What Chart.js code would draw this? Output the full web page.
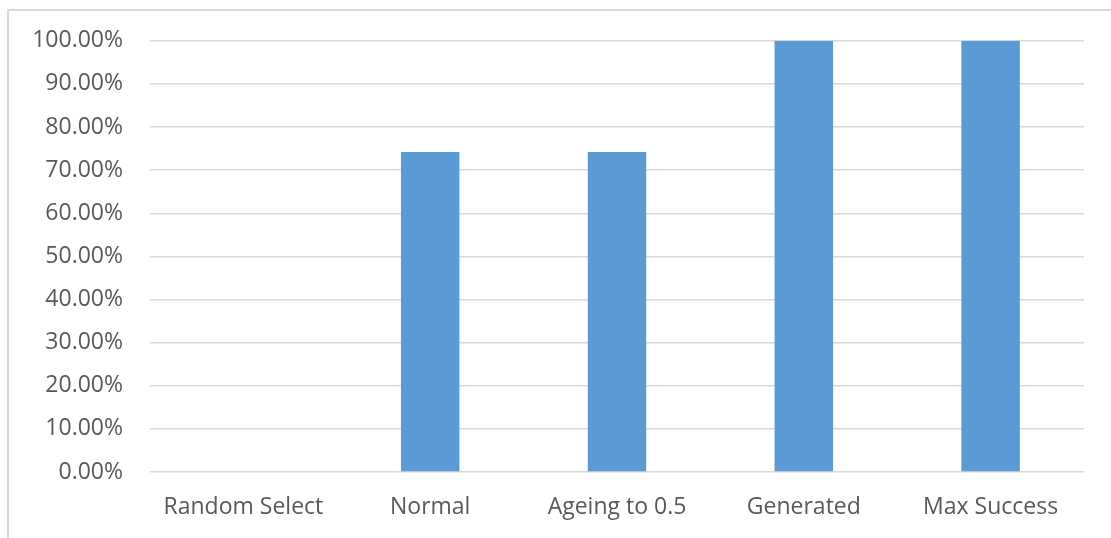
<!DOCTYPE html>
<html>
<head>
<meta charset="utf-8">
<script src="https://cdn.jsdelivr.net/npm/chart.js@4"></script>
<style>
  html, body { margin: 0; padding: 0; background: #fff; }
  body { width: 1111px; height: 538px; position: relative; overflow: hidden; }
  #frame { position: absolute; left: 7px; top: 9px; width: 1300px; height: 700px;
           border: 2px solid #d9d9d9; box-sizing: border-box; }
  #wrap { position: absolute; left: 0; top: 0; width: 1111px; height: 538px; }
</style>
</head>
<body>
<div id="frame"></div>
<div id="wrap"><canvas id="c" width="1111" height="538"></canvas></div>
<script>
// Success rate per selection strategy (percent)
const categories = ['Random Select', 'Normal', 'Ageing to 0.5', 'Generated', 'Max Success'];
const successRate = [0, 74.2, 74.2, 100, 100];
const yTicks = [0, 10, 20, 30, 40, 50, 60, 70, 80, 90, 100];

const textColor = '#595959';
const gridColor = '#d9d9d9';
const fontFamily = "'Open Sans', 'DejaVu Sans', sans-serif";

new Chart(document.getElementById('c'), {
  type: 'bar',
  data: {
    labels: categories,
    datasets: [{
      data: successRate,
      backgroundColor: '#5b9bd5',
      borderWidth: 0,
      categoryPercentage: 1,
      barPercentage: 0.313
    }]
  },
  options: {
    responsive: false,
    animation: false,
    devicePixelRatio: 1,
    layout: { padding: { left: 0, right: 27, top: 32, bottom: 0 } },
    plugins: { legend: { display: false }, tooltip: { enabled: false } },
    scales: {
      x: {
        grid: { display: false, drawTicks: false },
        border: { display: false },
        ticks: { color: textColor, font: { family: fontFamily, size: 23 }, padding: 22, maxRotation: 0 },
        afterFit: s => { s.height = 66; }
      },
      y: {
        min: 0, max: 100,
        afterBuildTicks: s => { s.ticks = yTicks.map(v => ({ value: v })); },
        grid: { color: gridColor, lineWidth: 1.5, drawTicks: false },
        border: { display: false },
        ticks: {
          color: textColor, font: { family: fontFamily, size: 23 }, padding: 27,
          callback: v => v.toFixed(2) + '%'
        },
        afterFit: s => { s.width = 150; }
      }
    }
  }
});
</script>
</body>
</html>
